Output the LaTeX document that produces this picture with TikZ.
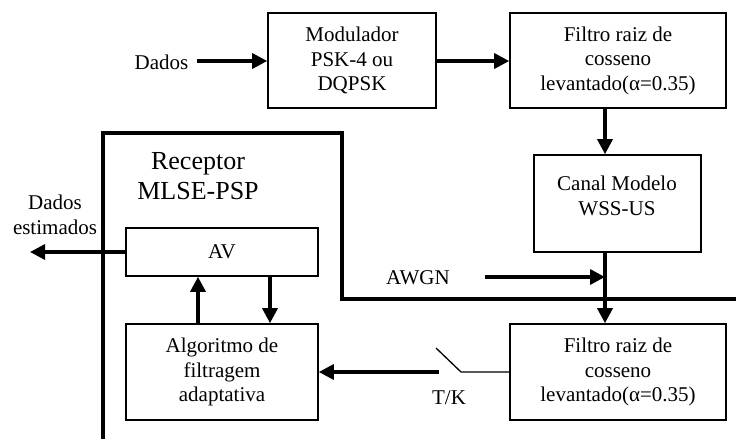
\documentclass[tikz,border=0pt]{standalone}
\usepackage{fontspec}
\setmainfont{Liberation Serif}
\usetikzlibrary{arrows.meta}
\begin{document}
\begin{tikzpicture}[x=1pt,y=-1pt,
  box/.style={draw,line width=1.6pt,align=center,inner sep=0pt,
    font=\fontsize{21}{24.5}\selectfont},
  lbl/.style={align=center,inner sep=0pt,font=\fontsize{21}{25}\selectfont},
  sig/.style={line width=3.3pt,-{Triangle[length=15pt,width=15pt]}},
  thin/.style={line width=1.3pt},
  border/.style={line width=4pt}]
\useasboundingbox (0,0) rectangle (736,439);

% transmitter chain
\node[box,minimum width=168pt,minimum height=95pt] (mod) at (352,60.5)
  {Modulador\\PSK-4 ou\\DQPSK};
\node[box,minimum width=216pt,minimum height=95pt] (f1) at (618,60.5)
  {Filtro raiz de\\cosseno\\levantado(α=0.35)};
\node[box,minimum width=167pt,minimum height=97pt] (canal) at (617.5,203.5) {};
\node[lbl] (canalt) at (617,196) {Canal Modelo\\WSS-US};
\node[box,minimum width=216pt,minimum height=96pt] (f2) at (618,372)
  {Filtro raiz de\\cosseno\\levantado(α=0.35)};

% receiver blocks
\node[box,minimum width=192pt,minimum height=48pt] (av) at (222,252) {AV};
\node[box,minimum width=192pt,minimum height=96pt] (alg) at (222,372)
  {Algoritmo de\\filtragem\\adaptativa};

% labels
\node[lbl] (dados) at (161.5,62) {Dados};
\node[lbl] (est) at (55,215) {Dados\\estimados};
\node[lbl] (awgn) at (418,278) {AWGN};
\node[lbl] (tk) at (449,398) {T/K};
\node[align=center,inner sep=0pt,font=\fontsize{26}{30}\selectfont] (rx) at (198,176)
  {Receptor\\MLSE-PSP};

% helper points
\coordinate (col) at (605,0);
\coordinate (dstart) at (197,61);
\coordinate (awgnstart) at (485,277);
\coordinate (out) at (30,252);
\coordinate (sw1) at (461,372);
\coordinate (sw2) at (436,348);
\coordinate (sw3) at (439,372);

% receiver boundary
\draw[border] (103,439) -- (103,133) -- (342,133) -- (342,299) -- (736,299);

% signal flow
\draw[sig] (dstart) -- (mod.west |- dstart);
\draw[sig] (mod.east |- 0,61) -- (f1.west |- 0,61);
\draw[sig] (f1.south -| col) -- (canal.north -| col);
\draw[sig] (canal.south -| col) -- (f2.north -| col);
\draw[sig] (awgnstart) -- (awgnstart -| col);
\draw[sig] (av.west) -- (out);
\draw[sig] (alg.north -| 198,0) -- (av.south -| 198,0);
\draw[sig] (av.south -| 270,0) -- (alg.north -| 270,0);

% sampling switch
\draw[thin] (f2.west |- sw1) -- (sw1) -- (sw2);
\draw[sig] (sw3) -- (alg.east |- sw3);
\end{tikzpicture}
\end{document}
